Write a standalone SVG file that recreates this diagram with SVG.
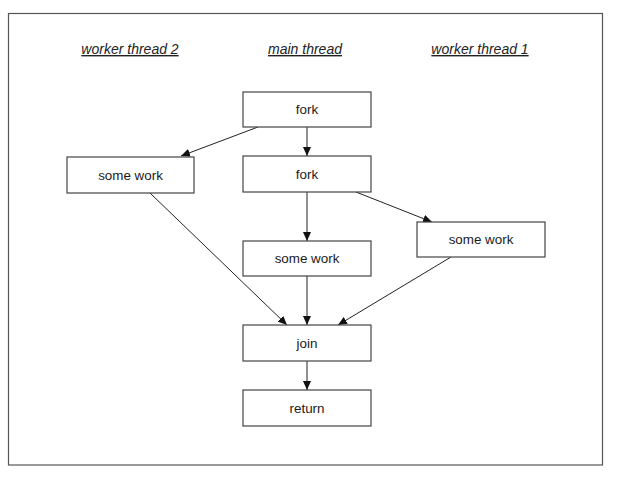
<svg xmlns="http://www.w3.org/2000/svg" width="617" height="477" viewBox="0 0 617 477">
<defs>
<marker id="ah" markerWidth="10" markerHeight="8" refX="9" refY="4" orient="auto" markerUnits="userSpaceOnUse">
<path d="M0,0 L9,4 L0,8 z" fill="#111"/>
</marker>
<style>
.box{fill:#fff;stroke:#444;stroke-width:1.2}
.lbl{font-family:"Liberation Sans",Arial,sans-serif;font-size:13.4px;fill:#1a1a1a;text-anchor:middle}
.hdr{font-family:"Liberation Sans",Arial,sans-serif;font-size:14px;font-style:italic;fill:#222;text-anchor:middle;text-decoration:underline}
.edge{stroke:#222;stroke-width:1;fill:none;marker-end:url(#ah)}
</style>
</defs>
<rect x="0" y="0" width="617" height="477" fill="#fff"/>
<rect x="8.5" y="13.5" width="594" height="451.5" fill="none" stroke="#555" stroke-width="1.2"/>
<g id="headers">
<text class="hdr" x="130" y="54">worker thread 2</text>
<text class="hdr" x="305" y="54">main thread</text>
<text class="hdr" x="480" y="54">worker thread 1</text>
</g>
<g id="connectors">
<line class="edge" x1="258" y1="127" x2="181" y2="156"/>
<line class="edge" x1="307" y1="127" x2="307" y2="156"/>
<line class="edge" x1="356" y1="192" x2="432" y2="222"/>
<line class="edge" x1="307" y1="192" x2="307" y2="241"/>
<line class="edge" x1="150" y1="193" x2="287" y2="325"/>
<line class="edge" x1="307" y1="276" x2="307" y2="325"/>
<line class="edge" x1="451" y1="257" x2="338" y2="325"/>
<line class="edge" x1="307" y1="361" x2="307" y2="390"/>
</g>
<g id="fork1"><rect class="box" x="243" y="92" width="128" height="35"/><text class="lbl" x="307" y="114">fork</text></g>
<g id="work2"><rect class="box" x="67" y="157" width="127" height="36"/><text class="lbl" x="130.5" y="179.5">some work</text></g>
<g id="fork2"><rect class="box" x="243" y="156" width="128" height="36"/><text class="lbl" x="307" y="178.5">fork</text></g>
<g id="work1"><rect class="box" x="417" y="222" width="128" height="35"/><text class="lbl" x="481" y="244">some work</text></g>
<g id="workmain"><rect class="box" x="243" y="241" width="128" height="35"/><text class="lbl" x="307" y="263">some work</text></g>
<g id="join"><rect class="box" x="243" y="325" width="128" height="36"/><text class="lbl" x="307" y="347.5">join</text></g>
<g id="return"><rect class="box" x="243" y="390" width="128" height="36"/><text class="lbl" x="307" y="412.5">return</text></g>
</svg>
